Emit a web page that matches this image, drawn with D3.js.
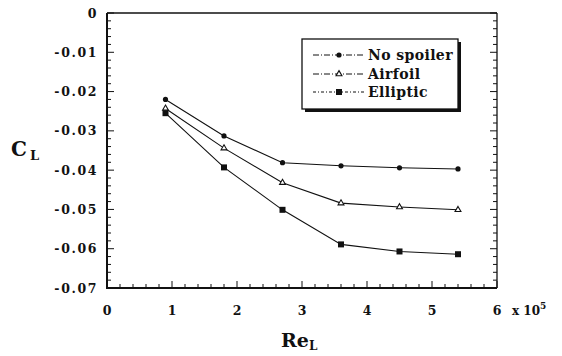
<!DOCTYPE html>
<html>
<head>
<meta charset="utf-8">
<script src="https://cdn.jsdelivr.net/npm/d3@7"></script>
<style>
  body { margin: 0; background: #fff; }
  svg text { font-family: "DejaVu Serif", "Liberation Serif", serif; font-weight: bold; fill: #111; }
</style>
</head>
<body>
<svg id="chart" width="562" height="356"></svg>
<script>
// data (Re_L in units of 1e5)
const reL = [0.9, 1.8, 2.7, 3.6, 4.5, 5.4];
const noSpoiler = [-0.0220, -0.0313, -0.0381, -0.0389, -0.0394, -0.0397];
const airfoil = [-0.0243, -0.0344, -0.0432, -0.0484, -0.0494, -0.0501];
const elliptic = [-0.0255, -0.0393, -0.0501, -0.0589, -0.0607, -0.0614];
const seriesNames = ["No spoiler", "Airfoil", "Elliptic"];
const xTicks = [0, 1, 2, 3, 4, 5, 6];
const yTicks = [0, -0.01, -0.02, -0.03, -0.04, -0.05, -0.06, -0.07];

const svg = d3.select("#chart");
const m = {left: 107, right: 497, top: 13, bottom: 288};

const x = d3.scaleLinear().domain([0, 6]).range([m.left, m.right]);
const y = d3.scaleLinear().domain([-0.07, 0]).range([m.bottom, m.top]);
const ink = "#111";

// minor ticks (inward)
const xMinor = d3.range(0, 6.001, 0.2);
const yMinor = d3.range(-0.07, 0.0001, 0.002);
const g = svg.append("g");
g.selectAll("line.xm").data(xMinor).join("line")
  .attr("x1", d => x(d)).attr("x2", d => x(d))
  .attr("y1", m.bottom).attr("y2", d => m.bottom - (Math.abs(d - Math.round(d)) < 1e-6 ? 7 : 4))
  .attr("stroke", ink).attr("stroke-width", 1);
[m.left, m.right].forEach((px, k) => {
  g.selectAll("line.ym" + k).data(yMinor).join("line")
    .attr("y1", d => y(d)).attr("y2", d => y(d))
    .attr("x1", px).attr("x2", d => {
      const major = Math.abs(d * 100 - Math.round(d * 100)) < 1e-6;
      const len = major ? 7 : 4;
      return k === 0 ? px + len : px - len;
    })
    .attr("stroke", ink).attr("stroke-width", 1);
});

// frame
svg.append("line").attr("x1", m.left).attr("x2", m.right).attr("y1", m.top).attr("y2", m.top)
  .attr("stroke", ink).attr("stroke-width", 1.3);
svg.append("line").attr("x1", m.right).attr("x2", m.right).attr("y1", m.top).attr("y2", m.bottom)
  .attr("stroke", ink).attr("stroke-width", 1.3);
svg.append("line").attr("x1", m.left).attr("x2", m.left).attr("y1", m.top).attr("y2", m.bottom + 1)
  .attr("stroke", ink).attr("stroke-width", 2);
svg.append("line").attr("x1", m.left - 1).attr("x2", m.right).attr("y1", m.bottom).attr("y2", m.bottom)
  .attr("stroke", ink).attr("stroke-width", 2);

// tick labels
svg.selectAll("text.yt").data(yTicks).join("text")
  .attr("x", 98).attr("y", d => y(d) + 4.5)
  .attr("text-anchor", "end").attr("font-size", 12.5).attr("letter-spacing", 1.6)
  .text(d => d === 0 ? "0" : d3.format(".2f")(d).replace("−", "-"));
svg.selectAll("text.xt").data(xTicks).join("text")
  .attr("x", d => x(d)).attr("y", 315)
  .attr("text-anchor", "middle").attr("font-size", 12.5)
  .text(d => d);
const xm = svg.append("text").attr("x", 512).attr("y", 315).attr("font-size", 12);
xm.append("tspan").text("x 10");
xm.append("tspan").attr("dy", -6).attr("font-size", 9).text("5");

// axis titles
const cl = svg.append("text").attr("x", 11).attr("y", 156).attr("font-size", 20);
cl.append("tspan").text("C");
cl.append("tspan").attr("dx", 3).attr("dy", 4).attr("font-size", 13).text("L");
const re = svg.append("text").attr("x", 281).attr("y", 347).attr("font-size", 19);
re.append("tspan").text("Re");
re.append("tspan").attr("dy", 3).attr("font-size", 12).text("L");

// series
const series = [noSpoiler, airfoil, elliptic];
const line = d3.line().x((d, i) => x(reL[i])).y(d => y(d));
series.forEach(vals => {
  svg.append("path").attr("d", line(vals)).attr("fill", "none")
    .attr("stroke", ink).attr("stroke-width", 1.1);
});

function marker(sel, k, cx, cy) {
  if (k === 0) {
    sel.append("circle").attr("cx", cx).attr("cy", cy).attr("r", 2.6).attr("fill", ink);
  } else if (k === 1) {
    sel.append("path").attr("d", d3.symbol(d3.symbolTriangle, 15)())
      .attr("transform", `translate(${cx},${cy})`)
      .attr("fill", "#fff").attr("stroke", ink).attr("stroke-width", 1.1);
  } else {
    sel.append("rect").attr("x", cx - 3).attr("y", cy - 3).attr("width", 6).attr("height", 6).attr("fill", ink);
  }
}
series.forEach((vals, k) => {
  vals.forEach((v, i) => marker(svg, k, x(reL[i]), y(v)));
});

// legend
const lg = svg.append("g");
lg.append("rect").attr("x", 305).attr("y", 42).attr("width", 156).attr("height", 70).attr("fill", ink);
lg.append("rect").attr("x", 302).attr("y", 39).attr("width", 156).attr("height", 70)
  .attr("fill", "#fff").attr("stroke", ink).attr("stroke-width", 1.3);
const ly = [55, 74, 92];
const dashes = ["6,2,1,2", "6,2,1,2", "3,2,1,2"];
seriesNames.forEach((name, k) => {
  lg.append("line").attr("x1", 313).attr("x2", 365).attr("y1", ly[k]).attr("y2", ly[k])
    .attr("stroke", ink).attr("stroke-width", 1).attr("stroke-dasharray", dashes[k]);
  marker(lg, k, 339, ly[k]);
  lg.append("text").attr("x", 368).attr("y", ly[k] + 5).attr("font-size", 14)
    .attr("letter-spacing", 0.4).text(name);
});
</script>
</body>
</html>
